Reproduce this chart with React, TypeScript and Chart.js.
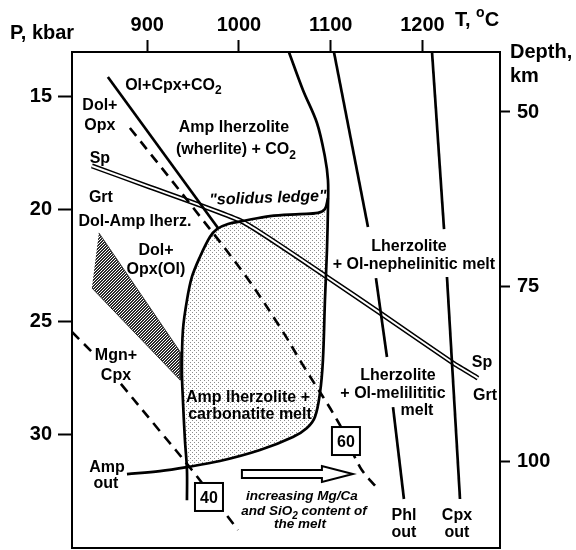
import React, { useEffect, useRef } from 'react';
import { Chart, registerables } from 'chart.js';

Chart.register(...registerables);

const FONT = '"Liberation Sans", Arial, Helvetica, sans-serif';

// Axis ticks
const temperatureTicks = [900, 1000, 1100, 1200];
const pressureTicks = [15, 20, 25, 30];
const depthTicks = [50, 75, 100];

// Curves as [T (°C), P (kbar)]
const solidusAndAmpOut: [number, number][] = [
  [1054.4, 13.0], [1069.7, 14.69], [1085.0, 16.16], [1093.7, 17.67], [1097.0, 18.7],
  [1097.0, 19.9], [1095.9, 21.81], [1093.7, 24.04], [1091.5, 26.71], [1088.3, 28.17],
  [1082.8, 29.24], [1074.1, 29.73], [1058.8, 30.13], [1022.9, 30.71], [979.2, 31.2],
  [943.3, 31.47], [913.8, 31.65], [877.9, 31.78],
];
const ledgeAndCarbonatiteSolidus: [number, number][] = [
  [1097.0, 19.5], [1093.7, 19.99], [1086.1, 20.16], [1066.5, 20.21], [1033.8, 20.3],
  [1004.3, 20.52], [988.0, 20.65], [976.0, 20.88], [968.3, 21.23], [957.4, 22.12],
  [948.7, 23.01], [943.3, 24.04], [938.9, 25.37], [937.8, 27.15], [938.9, 28.49],
  [941.1, 30.27], [943.3, 31.6], [943.3, 32.94],
];
const carbonatiteMeltField: [number, number][] = [
  [1004.3, 20.52], [1033.8, 20.3], [1066.5, 20.21], [1086.1, 20.16], [1094.8, 19.94],
  [1095.9, 21.81], [1093.7, 24.04], [1091.5, 26.71], [1088.3, 28.17], [1082.8, 29.24],
  [1074.1, 29.73], [1058.8, 30.13], [1022.9, 30.71], [979.2, 31.2], [943.3, 31.47],
  [941.1, 30.27], [938.9, 28.49], [937.8, 27.15], [938.9, 25.37], [943.3, 24.04],
  [948.7, 23.01], [957.4, 22.12], [968.3, 21.23], [976.0, 20.88], [988.0, 20.65],
];
const olCpxCO2Line: [number, number][] = [[857.1, 14.11], [977.1, 20.83]];
const geotherm60: [number, number][] = [
  [881.1, 16.38], [952.0, 20.03], [1006.5, 22.92], [1044.7, 25.24], [1069.7, 26.93],
  [1110.1, 29.6], [1131.9, 31.47], [1150.4, 32.4],
];
const geotherm40Upper: [number, number][] = [[818.0, 25.46], [840.8, 26.39]];
const geotherm40Lower: [number, number][] = [[871.3, 27.77], [913.8, 29.87], [948.7, 31.6], [998.9, 34.27]];
const spinelGarnet: [number, number][] = [
  [839.7, 18.07], [902.9, 19.01], [1004.3, 20.56], [1095.9, 23.01], [1153.7, 24.61],
  [1233.3, 26.84], [1260.5, 27.51],
];
const phlOutUpper: [number, number][] = [[1103.5, 13.0], [1140.6, 20.79]];
const phlOutMiddle: [number, number][] = [[1149.3, 23.06], [1161.3, 26.57]];
const phlOutLower: [number, number][] = [[1167.9, 28.8], [1179.8, 32.89]];
const cpxOutUpper: [number, number][] = [[1210.4, 13.0], [1223.5, 20.88]];
const cpxOutLower: [number, number][] = [[1226.7, 23.01], [1240.9, 32.89]];
const dolAmpWedge: [number, number][] = [[847.3, 21.05], [936.0, 26.35], [936.0, 27.6], [839.7, 23.5]];
const mgCaArrow: [number, number][] = [[1003.2, 31.78], [1124.2, 31.78]];

// Field labels: text, T, P, kind
const fieldLabels: { text: string; T: number; P: number; kind?: string }[] = [
  { text: 'Ol+Cpx+CO_{2}', T: 928.5, P: 14.42 },
  { text: 'Dol+', T: 848.4, P: 15.31 },
  { text: 'Opx', T: 848.4, P: 16.2 },
  { text: 'Amp lherzolite', T: 994.5, P: 16.29 },
  { text: '(wherlite) + CO_{2}', T: 996.7, P: 17.27 },
  { text: 'Sp', T: 848.4, P: 17.67 },
  { text: 'Grt', T: 849.5, P: 19.41 },
  { text: 'Dol-Amp lherz.', T: 886.6, P: 20.48 },
  { text: 'Dol+', T: 909.5, P: 21.77 },
  { text: 'Opx(Ol)', T: 909.5, P: 22.61 },
  { text: '"solidus ledge"', T: 1031.6, P: 19.45, kind: 'ledge' },
  { text: 'Lherzolite', T: 1185.3, P: 21.59 },
  { text: '+ Ol-nephelinitic melt', T: 1190.7, P: 22.39 },
  { text: 'Mgn+', T: 865.9, P: 26.44 },
  { text: 'Cpx', T: 865.9, P: 27.33 },
  { text: 'Amp lherzolite +', T: 1009.8, P: 28.31 },
  { text: 'carbonatite melt', T: 1012.0, P: 29.06 },
  { text: 'Lherzolite', T: 1173.3, P: 27.33 },
  { text: '+ Ol-melilititic', T: 1167.9, P: 28.13 },
  { text: 'melt', T: 1194.0, P: 28.89 },
  { text: 'Sp', T: 1264.9, P: 26.75 },
  { text: 'Grt', T: 1268.2, P: 28.22 },
  { text: 'Amp', T: 856.1, P: 31.42 },
  { text: 'out', T: 855.0, P: 32.14 },
  { text: 'Phl', T: 1179.8, P: 33.56 },
  { text: 'out', T: 1179.8, P: 34.32 },
  { text: 'Cpx', T: 1237.6, P: 33.56 },
  { text: 'out', T: 1237.6, P: 34.32 },
  { text: 'increasing Mg/Ca', T: 1068.6, P: 32.71, kind: 'caption' },
  { text: 'and SiO_{2} content of', T: 1070.8, P: 33.38, kind: 'caption' },
  { text: 'the melt', T: 1066.5, P: 33.96, kind: 'caption' },
  { text: '40', T: 967.3, P: 32.8, kind: 'box' },
  { text: '60', T: 1116.6, P: 30.31, kind: 'box' },
];

const toXY = (a: [number, number][]) => a.map(([x, y]) => ({ x, y }));

function drawRich(ctx: CanvasRenderingContext2D, text: string, cx: number, cy: number, size: number, italic: boolean, angle = 0, align = 'center') {
  const raw = text.split(/(_\{[^}]*\}|\^\{[^}]*\})/).filter(Boolean);
  const parts = raw.map((p) => {
    if (p.startsWith('_{')) return { t: p.slice(2, -1), mode: 'sub' };
    if (p.startsWith('^{')) return { t: p.slice(2, -1), mode: 'sup' };
    return { t: p, mode: '' };
  });
  const font = (s: number) => `${italic ? 'italic ' : ''}bold ${s}px ${FONT}`;
  const small = Math.round(size * 0.72);
  let total = 0;
  const widths = parts.map((p) => {
    ctx.font = font(p.mode ? small : size);
    const w = ctx.measureText(p.t).width;
    total += w;
    return w;
  });
  ctx.save();
  ctx.translate(cx, cy);
  ctx.rotate(angle);
  ctx.fillStyle = '#000';
  ctx.textAlign = 'left';
  ctx.textBaseline = 'alphabetic';
  let x = align === 'center' ? -total / 2 : align === 'right' ? -total : 0;
  const base = size * 0.36;
  parts.forEach((p, i) => {
    ctx.font = font(p.mode ? small : size);
    const dy = p.mode === 'sub' ? size * 0.3 : p.mode === 'sup' ? -size * 0.42 : 0;
    ctx.fillText(p.t, x, base + dy);
    x += widths[i];
  });
  ctx.restore();
}

function makePattern(kind: 'dots' | 'hatch') {
  const n = kind === 'dots' ? 4 : 3;
  const c = document.createElement('canvas');
  c.width = n;
  c.height = n;
  const g = c.getContext('2d')!;
  g.fillStyle = '#fff';
  g.fillRect(0, 0, n, n);
  if (kind === 'dots') {
    g.fillStyle = '#8c8c8c';
    g.fillRect(0, 0, 1, 1);
    g.fillRect(2, 2, 1, 1);
  } else {
    g.fillStyle = '#2a2a2a';
    for (let x = 0; x < n; x++) {
      for (let y = 0; y < n; y++) {
        if ((x + y) % 3 !== 2) g.fillRect(x, y, 1, 1);
      }
    }
  }
  return g.createPattern(c, 'repeat')!;
}

const zeroPad = (s: any) => {
  s.paddingTop = 0;
  s.paddingBottom = 0;
  s.paddingLeft = 0;
  s.paddingRight = 0;
};

export default function App() {
  const ref = useRef<HTMLCanvasElement>(null);

  useEffect(() => {
    const canvas = ref.current!;
    const dots = makePattern('dots');
    const hatch = makePattern('hatch');

    const line = (data: [number, number][], extra: any = {}) => ({
      data: toXY(data),
      showLine: true,
      pointRadius: 0,
      borderColor: '#000',
      borderWidth: 2.7,
      fill: false,
      tension: 0.35,
      order: 0,
      ...extra,
    });

    const overlay = {
      id: 'overlay',
      afterDraw(chart: any) {
        const ctx: CanvasRenderingContext2D = chart.ctx;
        const xs = chart.scales.x;
        const ys = chart.scales.y;
        const area = chart.chartArea;
        ctx.save();
        ctx.beginPath();
        ctx.rect(area.left, area.top, area.right - area.left, area.bottom - area.top);
        ctx.clip();

        // hollow arrow
        const ax0 = xs.getPixelForValue(mgCaArrow[0][0]);
        const ax1 = xs.getPixelForValue(mgCaArrow[1][0]);
        const ay = ys.getPixelForValue(mgCaArrow[0][1]);
        const head = 31;
        ctx.beginPath();
        ctx.moveTo(ax0, ay - 4);
        ctx.lineTo(ax1 - head, ay - 4);
        ctx.lineTo(ax1 - head, ay - 8);
        ctx.lineTo(ax1, ay);
        ctx.lineTo(ax1 - head, ay + 8);
        ctx.lineTo(ax1 - head, ay + 4);
        ctx.lineTo(ax0, ay + 4);
        ctx.closePath();
        ctx.fillStyle = '#fff';
        ctx.fill();
        ctx.lineWidth = 2;
        ctx.strokeStyle = '#000';
        ctx.stroke();

        for (const l of fieldLabels) {
          const x = xs.getPixelForValue(l.T);
          const y = ys.getPixelForValue(l.P);
          if (l.kind === 'box') {
            ctx.fillStyle = '#fff';
            ctx.fillRect(x - 14, y - 14, 28, 28);
            ctx.lineWidth = 2;
            ctx.strokeStyle = '#000';
            ctx.strokeRect(x - 14, y - 14, 28, 28);
            drawRich(ctx, l.text, x, y, 16, false);
          } else if (l.kind === 'caption') {
            drawRich(ctx, l.text, x, y, 13.5, true);
          } else if (l.kind === 'ledge') {
            drawRich(ctx, l.text, x, y, 16, true, -0.035);
          } else {
            drawRich(ctx, l.text, x, y, 16, false);
          }
        }
        ctx.restore();

        // frame
        ctx.save();
        ctx.lineWidth = 2;
        ctx.strokeStyle = '#000';
        ctx.strokeRect(area.left, area.top, area.right - area.left, area.bottom - area.top);
        ctx.restore();

        // axis titles
        drawRich(ctx, 'P, kbar', 10, 31.5, 20, false, 0, 'left');
        drawRich(ctx, 'T, ^{o}C', 455, 18.5, 20, false, 0, 'left');
        drawRich(ctx, 'Depth,', 510, 51, 20, false, 0, 'left');
        drawRich(ctx, 'km', 510, 75, 20, false, 0, 'left');
      },
    };

    const tickFont = { family: FONT, size: 20, weight: 'bold' as const };
    const plain = (v: any) => String(v);

    const chart = new Chart(canvas, {
      type: 'scatter',
      data: {
        datasets: [
          line(carbonatiteMeltField, { fill: 'shape', backgroundColor: dots, borderColor: 'rgba(0,0,0,0)', borderWidth: 0, tension: 0, order: 10 }),
          line(dolAmpWedge, { fill: 'shape', backgroundColor: hatch, borderColor: '#333', borderWidth: 1, tension: 0, order: 9 }),
          line(spinelGarnet, { borderWidth: 5, tension: 0.15, order: 4 }),
          line(spinelGarnet, { borderWidth: 2, borderColor: '#fff', tension: 0.15, order: 3 }),
          line(solidusAndAmpOut),
          line(ledgeAndCarbonatiteSolidus),
          line(olCpxCO2Line, { tension: 0 }),
          line(geotherm60, { borderDash: [10, 7], borderWidth: 2.6 }),
          line(geotherm40Upper, { borderDash: [10, 7], borderWidth: 2.6, tension: 0 }),
          line(geotherm40Lower, { borderDash: [10, 7], borderWidth: 2.6 }),
          line(phlOutUpper, { tension: 0 }),
          line(phlOutMiddle, { tension: 0 }),
          line(phlOutLower, { tension: 0 }),
          line(cpxOutUpper, { tension: 0 }),
          line(cpxOutLower, { tension: 0 }),
        ] as any,
      },
      options: {
        animation: false,
        responsive: false,
        events: [],
        layout: { padding: { top: 0, left: 0, right: 0, bottom: 2 } },
        plugins: { legend: { display: false }, tooltip: { enabled: false } },
        scales: {
          x: {
            type: 'linear',
            position: 'top',
            min: 818,
            max: 1284.5,
            afterBuildTicks: (s: any) => { s.ticks = temperatureTicks.map((v) => ({ value: v })); },
            afterFit: (s: any) => { s.height = 52; zeroPad(s); },
            grid: { drawOnChartArea: false, drawTicks: true, tickLength: 12, tickWidth: 2, tickColor: '#000' },
            border: { display: false },
            ticks: { color: '#000', font: tickFont, padding: 3, maxRotation: 0, autoSkip: false, callback: plain },
          },
          y: {
            type: 'linear',
            position: 'left',
            reverse: true,
            min: 13.0,
            max: 35.07,
            afterBuildTicks: (s: any) => { s.ticks = pressureTicks.map((v) => ({ value: v })); },
            afterFit: (s: any) => { s.width = 72; zeroPad(s); },
            grid: { drawOnChartArea: false, drawTicks: true, tickLength: 14, tickWidth: 2, tickColor: '#000' },
            border: { display: false },
            ticks: { color: '#000', font: tickFont, padding: 6, autoSkip: false, callback: plain },
          },
          y2: {
            type: 'linear',
            position: 'right',
            reverse: true,
            min: 41.43,
            max: 112.29,
            afterBuildTicks: (s: any) => { s.ticks = depthTicks.map((v) => ({ value: v })); },
            afterFit: (s: any) => { s.width = 76; zeroPad(s); },
            grid: { drawOnChartArea: false, drawTicks: true, tickLength: 10, tickWidth: 2, tickColor: '#000' },
            border: { display: false },
            ticks: { color: '#000', font: tickFont, padding: 7, autoSkip: false, callback: plain },
          },
        },
      } as any,
      plugins: [overlay],
    });
    return () => chart.destroy();
  }, []);

  return (
    <div style={{ position: 'fixed', left: 0, top: 0, width: 576, height: 550, background: '#fff' }}>
      <canvas ref={ref} width={576} height={550} style={{ width: 576, height: 550, display: 'block' }} />
    </div>
  );
}
